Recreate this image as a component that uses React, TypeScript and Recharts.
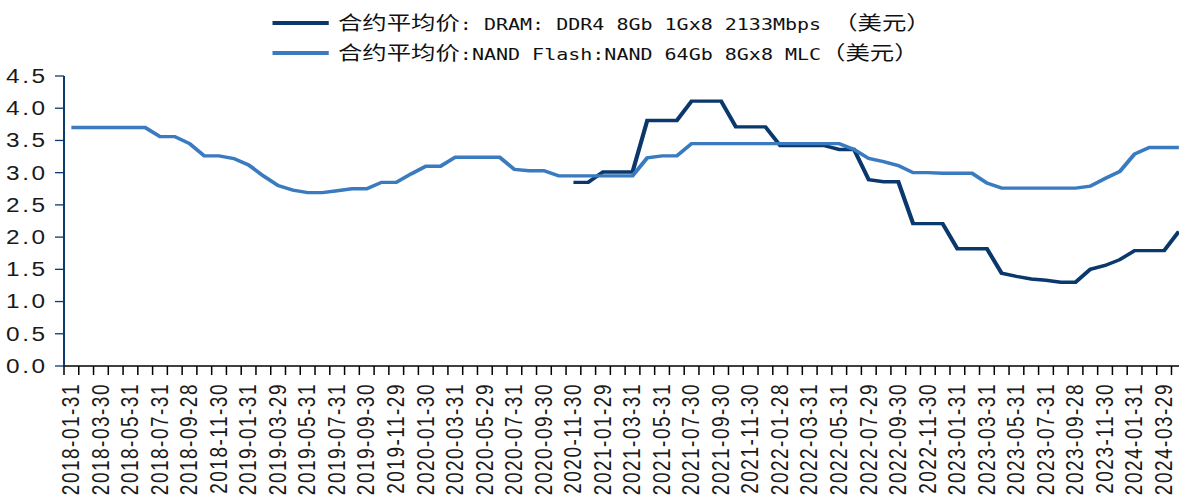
import React from "react";
import { LineChart, Line, XAxis, YAxis, Legend } from "recharts";

const dates: string[] = [
  "2018-01-31","2018-02-28","2018-03-30","2018-04-30","2018-05-31","2018-06-29",
  "2018-07-31","2018-08-31","2018-09-28","2018-10-31","2018-11-30","2018-12-28",
  "2019-01-31","2019-02-28","2019-03-29","2019-04-30","2019-05-31","2019-06-28",
  "2019-07-31","2019-08-30","2019-09-30","2019-10-31","2019-11-29","2019-12-31",
  "2020-01-30","2020-02-28","2020-03-31","2020-04-30","2020-05-29","2020-06-30",
  "2020-07-31","2020-08-31","2020-09-30","2020-10-30","2020-11-30","2020-12-31",
  "2021-01-29","2021-02-26","2021-03-31","2021-04-30","2021-05-31","2021-06-30",
  "2021-07-30","2021-08-31","2021-09-30","2021-10-29","2021-11-30","2021-12-31",
  "2022-01-28","2022-02-28","2022-03-31","2022-04-29","2022-05-31","2022-06-30",
  "2022-07-29","2022-08-31","2022-09-30","2022-10-31","2022-11-30","2022-12-30",
  "2023-01-31","2023-02-28","2023-03-31","2023-04-28","2023-05-31","2023-06-30",
  "2023-07-31","2023-08-31","2023-09-28","2023-10-31","2023-11-30","2023-12-29",
  "2024-01-31","2024-02-29","2024-03-29","2024-04-30",
];

const dramValues: (number | null)[] = [
  null,null,null,null,null,null,null,null,null,null,null,null,
  null,null,null,null,null,null,null,null,null,null,null,null,
  null,null,null,null,null,null,null,null,null,null,2.85,2.85,
  3.01,3.01,3.01,3.81,3.81,3.81,4.11,4.11,4.11,3.71,3.71,3.71,
  3.42,3.42,3.42,3.42,3.36,3.36,2.89,2.86,2.86,2.21,2.21,2.21,
  1.82,1.82,1.82,1.44,1.39,1.35,1.33,1.30,1.30,1.50,1.56,1.65,
  1.79,1.79,1.79,2.09,
];

const nandValues: number[] = [
  3.70,3.70,3.70,3.70,3.70,3.70,3.56,3.56,3.45,3.26,3.26,3.22,
  3.12,2.95,2.80,2.73,2.69,2.69,2.72,2.75,2.75,2.85,2.85,2.98,
  3.10,3.10,3.24,3.24,3.24,3.24,3.05,3.03,3.03,2.95,2.95,2.95,
  2.95,2.95,2.95,3.23,3.26,3.26,3.45,3.45,3.45,3.45,3.45,3.45,
  3.45,3.45,3.45,3.45,3.45,3.36,3.22,3.17,3.11,3.00,3.00,2.99,
  2.99,2.99,2.84,2.76,2.76,2.76,2.76,2.76,2.76,2.79,2.91,3.02,
  3.29,3.39,3.39,3.39,
];

const yTicks: number[] = [0, 0.5, 1, 1.5, 2, 2.5, 3, 3.5, 4, 4.5];

const seriesNames = {
  dram: "合约平均价: DRAM: DDR4 8Gb 1Gx8 2133Mbps （美元）",
  nand: "合约平均价:NAND Flash:NAND 64Gb 8Gx8 MLC（美元）",
};
const colors = { dram: "#0a386c", nand: "#3a7bbf" };

const rows = dates.map((d, i) => ({ date: d, dram: dramValues[i], nand: nandValues[i] }));

// layout (unstretched coordinates; whole chart is stretched horizontally)
const STRETCH = 1.25;
const CHART_W = 950;
const CHART_H = 502;
const Y_AXIS_W = 51.2;
const MARGIN_RIGHT = 1;
const BAND = (CHART_W - MARGIN_RIGHT - Y_AXIS_W) / dates.length;

const XTick = (props: any) => {
  const { x, y, payload } = props;
  const idx = payload.index;
  const edge = x - BAND / 2;
  return (
    <g>
      <line x1={edge} x2={edge} y1={y} y2={y + 9} stroke="#000" strokeWidth={1.2} />
      {idx % 2 === 0 ? (
        <text
          transform={`translate(${x},${y + 17}) rotate(-90)`}
          textAnchor="end"
          dominantBaseline="central"
          fontFamily="'Liberation Sans', Arial, sans-serif"
          fontSize={19}
          letterSpacing={1.5}
          fill="#1a1a1a"
        >
          {payload.value}
        </text>
      ) : null}
    </g>
  );
};

const splitRuns = (s: string) => {
  const re = /[\u3000-\u9fff\uff00-\uffef]+/g;
  const out: { t: string; cjk: boolean }[] = [];
  let last = 0;
  let m: RegExpExecArray | null;
  while ((m = re.exec(s)) !== null) {
    if (m.index > last) out.push({ t: s.slice(last, m.index), cjk: false });
    out.push({ t: m[0], cjk: true });
    last = m.index + m[0].length;
  }
  if (last < s.length) out.push({ t: s.slice(last), cjk: false });
  return out;
};

const LegendRow = ({ text, color, cy }: { text: string; color: string; cy: number }) => (
  <div
    style={{
      position: "absolute",
      left: 218.2,
      top: cy - 12,
      height: 24,
      display: "flex",
      alignItems: "center",
      whiteSpace: "pre",
    }}
  >
    <span style={{ display: "inline-block", width: 45, height: 4, background: color, marginRight: 7.2 }} />
    <span style={{ color: "#111", lineHeight: "24px" }}>
      {splitRuns(text).map((r, k) =>
        r.cjk ? (
          <span key={k} style={{ fontFamily: "'Noto Sans CJK SC', sans-serif", fontSize: 19.5 }}>{r.t}</span>
        ) : (
          <span key={k} style={{ fontFamily: "'DejaVu Sans Mono', monospace", fontSize: 16 }}>{r.t}</span>
        )
      )}
    </span>
  </div>
);

const renderLegend = () => (
  <div style={{ position: "relative", width: CHART_W, height: 60 }}>
    <LegendRow text={seriesNames.dram} color={colors.dram} cy={23} />
    <LegendRow text={seriesNames.nand} color={colors.nand} cy={53} />
  </div>
);

export default function App() {
  return (
    <div
      style={{
        position: "absolute",
        left: 0,
        top: 0,
        width: 1179,
        height: 502,
        overflow: "hidden",
        background: "#fff",
      }}
    >
      <div style={{ width: CHART_W, height: CHART_H, transform: `scaleX(${STRETCH})`, transformOrigin: "0 0" }}>
        <LineChart
          width={CHART_W}
          height={CHART_H}
          data={rows}
          margin={{ top: 16, right: MARGIN_RIGHT, left: 0, bottom: 0 }}
        >
          <Legend
            verticalAlign="top"
            align="left"
            wrapperStyle={{ top: 0, left: 0, width: CHART_W, height: 60 }}
            content={renderLegend}
          />
          <XAxis
            dataKey="date"
            scale="band"
            interval={0}
            tickLine={false}
            tickSize={0}
            tickMargin={0}
            height={136}
            axisLine={{ stroke: "#000", strokeWidth: 1.5 }}
            tick={<XTick />}
          />
          <YAxis
            width={Y_AXIS_W}
            domain={[0, 4.5]}
            ticks={yTicks}
            interval={0}
            tickFormatter={(v: number) => v.toFixed(1)}
            axisLine={{ stroke: "#0b3a6e", strokeWidth: 1.6 }}
            tickLine={{ stroke: "#0b3a6e", strokeWidth: 1.3 }}
            tickSize={7.2}
            tickMargin={6}
            tick={{ fill: "#1a1a1a", fontSize: 19.5, fontFamily: "'Liberation Sans', Arial, sans-serif", letterSpacing: 2 }}
          />
          <Line
            type="linear"
            dataKey="dram"
            name={seriesNames.dram}
            stroke={colors.dram}
            strokeWidth={3.4}
            dot={false}
            activeDot={false}
            isAnimationActive={false}
          />
          <Line
            type="linear"
            dataKey="nand"
            name={seriesNames.nand}
            stroke={colors.nand}
            strokeWidth={3.4}
            dot={false}
            activeDot={false}
            isAnimationActive={false}
          />
        </LineChart>
      </div>
    </div>
  );
}
